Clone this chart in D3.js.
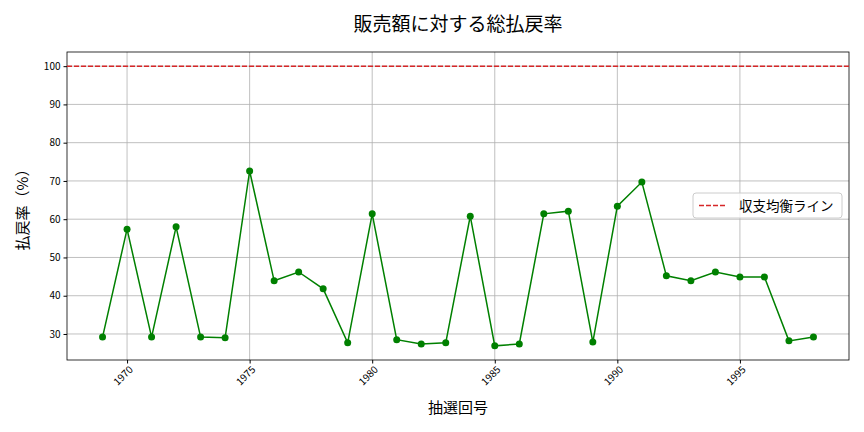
<!DOCTYPE html>
<html><head><meta charset="utf-8">
<script src="https://cdn.jsdelivr.net/npm/d3@7"></script>
<style>body{margin:0;background:#fff}text{font-family:"Noto Sans CJK JP","DejaVu Sans",sans-serif}</style>
</head><body><svg id="c" width="864" height="432"></svg>
<script>
const years=[1969,1970,1971,1972,1973,1974,1975,1976,1977,1978,1979,1980,1981,1982,1983,1984,1985,1986,1987,1988,1989,1990,1991,1992,1993,1994,1995,1996,1997,1998];
const rates=[29.2,57.4,29.2,58,29.2,29,72.6,43.9,46.2,41.8,27.7,61.4,28.5,27.4,27.7,60.8,26.9,27.4,61.4,62.1,27.9,63.4,69.7,45.2,43.9,46.2,44.9,44.9,28.2,29.2];
const xTicks=[1970,1975,1980,1985,1990,1995];
const yTicks=[30,40,50,60,70,80,90,100];
const breakEven=100;
const title="販売額に対する総払戻率", xLabel="抽選回号", yLabel="払戻率（%）", legendLabel="収支均衡ライン";
const L=67,R=849,T=52,B=360;
const svg=d3.select("#c");
const x=d3.scaleLinear().domain([1967.55,1999.45]).range([L,R]);
const y=d3.scaleLinear().domain([23.2,103.7]).range([B,T]);
const g=svg.append("g");
g.selectAll(".gx").data(xTicks).join("line").attr("x1",d=>x(d)).attr("x2",d=>x(d)).attr("y1",T).attr("y2",B).attr("stroke","#b0b0b0").attr("stroke-width",0.8);
g.selectAll(".gy").data(yTicks).join("line").attr("y1",d=>y(d)).attr("y2",d=>y(d)).attr("x1",L).attr("x2",R).attr("stroke","#b0b0b0").attr("stroke-width",0.8);
const xa=svg.append("g").attr("transform",`translate(0,${B})`).call(d3.axisBottom(x).tickValues(xTicks).tickFormat(d3.format("d")).tickSizeOuter(0).tickSize(3.5));
xa.selectAll("text").attr("font-size",10).attr("text-anchor","end").attr("transform","rotate(-45)").attr("dx","-0.3em").attr("dy","0.5em");
const ya=svg.append("g").attr("transform",`translate(${L},0)`).call(d3.axisLeft(y).tickValues(yTicks).tickSizeOuter(0).tickSize(3.5));
ya.selectAll("text").attr("font-size",10);
svg.selectAll(".domain").remove();
svg.append("rect").attr("x",L).attr("y",T).attr("width",R-L).attr("height",B-T).attr("fill","none").attr("stroke","#000").attr("stroke-width",0.8);
svg.append("line").attr("x1",L).attr("x2",R).attr("y1",y(breakEven)).attr("y2",y(breakEven)).attr("stroke","#d62728").attr("stroke-width",1.5).attr("stroke-dasharray","5,2");
svg.append("path").datum(years.map((d,i)=>[d,rates[i]])).attr("d",d3.line().x(d=>x(d[0])).y(d=>y(d[1]))).attr("fill","none").attr("stroke","green").attr("stroke-width",1.5);
svg.selectAll(".pt").data(years).join("circle").attr("cx",d=>x(d)).attr("cy",(d,i)=>y(rates[i])).attr("r",3.5).attr("fill","green");
svg.append("text").attr("x",(L+R)/2).attr("y",31).attr("text-anchor","middle").attr("font-size",19).text(title);
svg.append("text").attr("x",(L+R)/2).attr("y",413).attr("text-anchor","middle").attr("font-size",15).text(xLabel);
svg.append("text").attr("transform",`translate(28,${(T+B)/2}) rotate(-90)`).attr("text-anchor","middle").attr("font-size",15).text(yLabel);
const lg=svg.append("g").attr("transform","translate(693,193)");
lg.append("rect").attr("width",149).attr("height",25).attr("rx",3).attr("fill","#fff").attr("fill-opacity",0.8).attr("stroke","#ccc");
lg.append("line").attr("x1",6).attr("x2",34).attr("y1",12.5).attr("y2",12.5).attr("stroke","#d62728").attr("stroke-width",1.5).attr("stroke-dasharray","5,2");
lg.append("text").attr("x",46).attr("y",17.5).attr("font-size",13.5).text(legendLabel);
</script></body></html>
